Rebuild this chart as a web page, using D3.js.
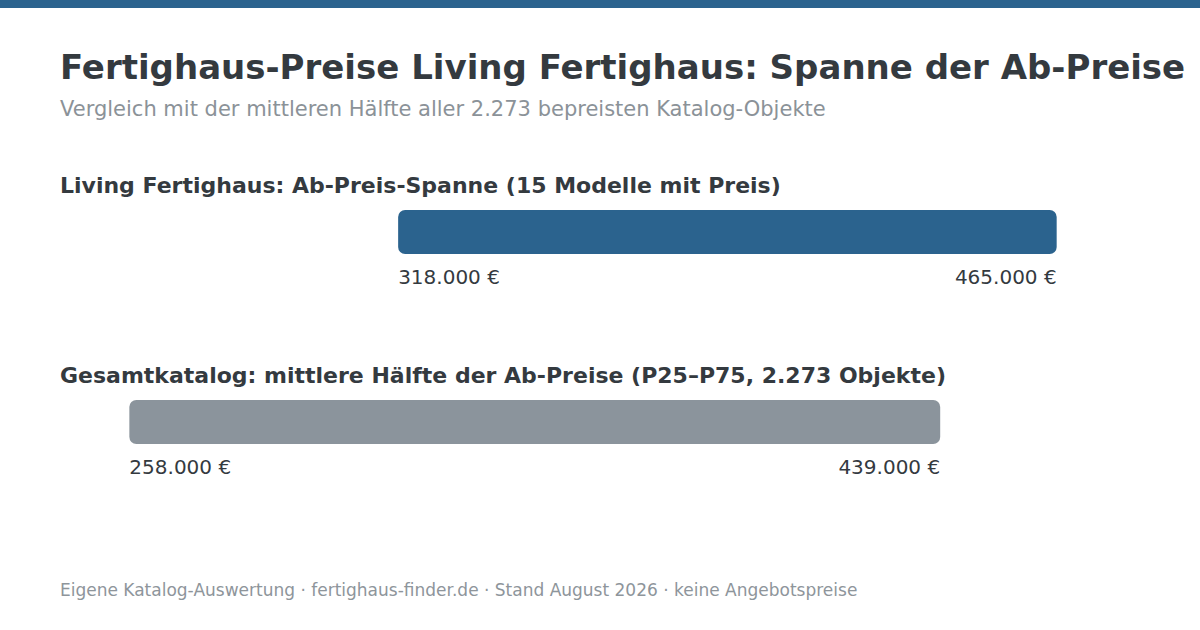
<!DOCTYPE html>
<html><head><meta charset="utf-8">
<script src="https://cdn.jsdelivr.net/npm/d3@7"></script>
<style>html,body{margin:0;padding:0;background:#fff;}svg{display:block;font-family:"DejaVu Sans",sans-serif;}</style>
</head><body><div id="chart"></div>
<script>
const rowLabels = ["Living Fertighaus: Ab-Preis-Spanne (15 Modelle mit Preis)", "Gesamtkatalog: mittlere Hälfte der Ab-Preise (P25–P75, 2.273 Objekte)"];
const lowValues = [318000, 258000];
const highValues = [465000, 439000];
const rowColors = ["#2b638e", "#8b949c"];
const title = "Fertighaus-Preise Living Fertighaus: Spanne der Ab-Preise";
const subtitle = "Vergleich mit der mittleren Hälfte aller 2.273 bepreisten Katalog-Objekte";
const footer = "Eigene Katalog-Auswertung · fertighaus-finder.de · Stand August 2026 · keine Angebotspreise";

const W = 1200, H = 630;
const svg = d3.select("#chart").append("svg").attr("width", W).attr("height", H);
svg.append("rect").attr("x",0).attr("y",0).attr("width",W).attr("height",8).attr("fill","#2b638e");
svg.append("text").attr("x",60).attr("y",79).attr("font-size",34).attr("font-weight","bold").attr("fill","#343a3f").text(title);
svg.append("text").attr("x",60).attr("y",116).attr("font-size",21).attr("fill","#8b9298").text(subtitle);

const allMin = d3.min(lowValues), allMax = d3.max(highValues);
const x = d3.scaleLinear().domain([allMin*0.94, allMax*1.04]).range([60, 1140]);
const fmt = v => d3.format(",")(v).replace(/,/g, ".") + " €";

const rowY = d3.scaleBand().domain(d3.range(rowLabels.length)).range([170, 550]).paddingInner(0);
const g = svg.selectAll("g.row").data(rowLabels.map((l,i)=>({l,i,lo:lowValues[i],hi:highValues[i]}))).join("g")
  .attr("class","row").attr("transform", d => `translate(0,${rowY(d.i)})`);
g.append("text").attr("x",60).attr("y",23).attr("font-size",22).attr("font-weight","bold").attr("fill","#343a3f").text(d=>d.l);
g.append("rect").attr("x",d=>x(d.lo)).attr("y",40).attr("width",d=>x(d.hi)-x(d.lo)).attr("height",44).attr("rx",7)
  .attr("fill",(d)=>rowColors[d.i]);
g.append("text").attr("x",d=>x(d.lo)).attr("y",114).attr("font-size",20).attr("fill","#343a3f").text(d=>fmt(d.lo));
g.append("text").attr("x",d=>x(d.hi)).attr("y",114).attr("text-anchor","end").attr("font-size",20).attr("fill","#343a3f").text(d=>fmt(d.hi));

svg.append("text").attr("x",60).attr("y",596).attr("font-size",17).attr("fill","#8e959b").text(footer);
</script></body></html>
